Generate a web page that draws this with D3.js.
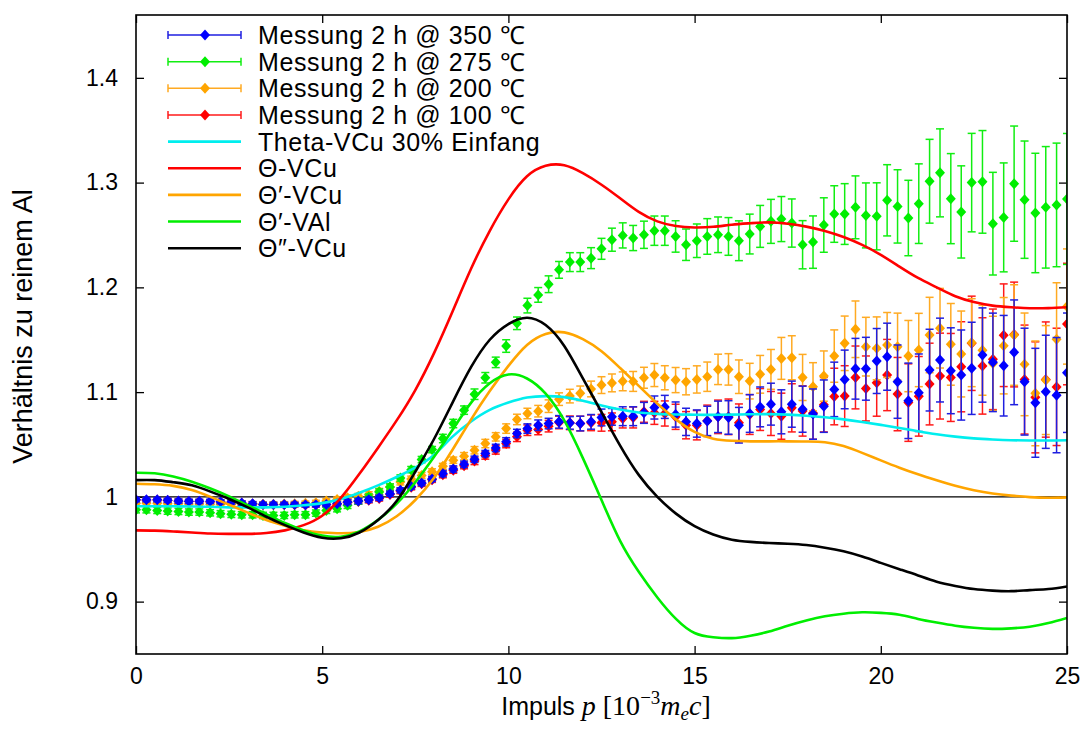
<!DOCTYPE html>
<html>
<head>
<meta charset="utf-8">
<script src="https://cdn.jsdelivr.net/npm/d3@7"></script>
<style>
  body { margin: 0; background: #fff; }
</style>
</head>
<body>
<svg></svg>
<script>
// momentum grid of the measurements [10^-3 m_e c]
const momentum = [
  0.00, 0.28, 0.57, 0.85, 1.14, 1.42, 1.70, 1.99, 2.27, 2.56,
  2.84, 3.13, 3.41, 3.69, 3.98, 4.26, 4.55, 4.83, 5.11, 5.40,
  5.68, 5.97, 6.25, 6.53, 6.82, 7.10, 7.39, 7.67, 7.95, 8.24,
  8.52, 8.81, 9.09, 9.38, 9.66, 9.94, 10.23, 10.51, 10.80, 11.08,
  11.36, 11.65, 11.93, 12.22, 12.50, 12.78, 13.07, 13.35, 13.64, 13.92,
  14.20, 14.49, 14.77, 15.06, 15.34, 15.63, 15.91, 16.19, 16.48, 16.76,
  17.05, 17.33, 17.61, 17.90, 18.18, 18.47, 18.75, 19.03, 19.32, 19.60,
  19.89, 20.17, 20.45, 20.74, 21.02, 21.31, 21.59, 21.88, 22.16, 22.44,
  22.73, 23.01, 23.30, 23.58, 23.86, 24.15, 24.43, 24.72, 25.00
];

const m350 = [
  0.9973, 0.9973, 0.9973, 0.9967, 0.9960, 0.9957, 0.9957, 0.9957, 0.9954, 0.9951,
  0.9941, 0.9935, 0.9928, 0.9928, 0.9928, 0.9928, 0.9925, 0.9925, 0.9928, 0.9935,
  0.9951, 0.9960, 0.9973, 0.9992, 1.0030, 1.0062, 1.0100, 1.0132, 1.0171, 1.0222,
  1.0266, 1.0311, 1.0359, 1.0413, 1.0467, 1.0525, 1.0605, 1.0652, 1.0684, 1.0700,
  1.0716, 1.0706, 1.0700, 1.0716, 1.0758, 1.0764, 1.0770, 1.0770, 1.0802, 1.0853,
  1.0859, 1.0786, 1.0716, 1.0700, 1.0725, 1.0764, 1.0758, 1.0684, 1.0796, 1.0859,
  1.0885, 1.0812, 1.0885, 1.0837, 1.0790, 1.0866, 1.1026, 1.1121, 1.1223, 1.1223,
  1.1297, 1.1338, 1.1100, 1.0917, 1.0994, 1.1210, 1.1306, 1.1204, 1.1163, 1.1227,
  1.1354, 1.1284, 1.1252, 1.1380, 1.1100, 1.0898, 1.1003, 1.0971, 1.1185
];
const e350 = [
  0.002, 0.002, 0.002, 0.002, 0.002, 0.002, 0.002, 0.002, 0.002, 0.002,
  0.002, 0.002, 0.002, 0.002, 0.002, 0.002, 0.002, 0.002, 0.002, 0.002,
  0.0025, 0.0025, 0.0025, 0.0025, 0.0025, 0.0025, 0.0025, 0.0025, 0.0025, 0.003,
  0.003, 0.003, 0.003, 0.003, 0.0035, 0.004, 0.004, 0.0045, 0.005, 0.005,
  0.006, 0.006, 0.007, 0.007, 0.008, 0.008, 0.009, 0.009, 0.010, 0.011,
  0.011, 0.012, 0.013, 0.013, 0.014, 0.015, 0.016, 0.017, 0.018, 0.019,
  0.020, 0.021, 0.022, 0.022, 0.024, 0.025, 0.026, 0.028, 0.029, 0.030,
  0.031, 0.032, 0.035, 0.036, 0.037, 0.039, 0.040, 0.041, 0.043, 0.044,
  0.045, 0.047, 0.048, 0.050, 0.051, 0.052, 0.054, 0.055, 0.057
];

const m275 = [
  0.9877, 0.9877, 0.9871, 0.9864, 0.9861, 0.9855, 0.9855, 0.9848, 0.9839, 0.9833,
  0.9829, 0.9829, 0.9823, 0.9823, 0.9823, 0.9829, 0.9829, 0.9845, 0.9871, 0.9887,
  0.9919, 0.9960, 0.9998, 1.0046, 1.0094, 1.0180, 1.0260, 1.0356, 1.0451, 1.0557,
  1.0700, 1.0828, 1.0980, 1.1137, 1.1284, 1.1440, 1.1657, 1.1826, 1.1928, 1.2030,
  1.2167, 1.2241, 1.2241, 1.2279, 1.2368, 1.2455, 1.2496, 1.2471, 1.2502, 1.2541,
  1.2541, 1.2486, 1.2407, 1.2445, 1.2486, 1.2502, 1.2486, 1.2445, 1.2509, 1.2582,
  1.2630, 1.2652, 1.2614, 1.2407, 1.2432, 1.2595, 1.2700, 1.2700, 1.2764, 1.2687,
  1.2678, 1.2831, 1.2773, 1.2662, 1.2799, 1.3013, 1.3093, 1.2847, 1.2720, 1.3000,
  1.3007, 1.2608, 1.2668, 1.2990, 1.2837, 1.2710, 1.2764, 1.2787, 1.2844
];
const e275 = [
  0.003, 0.003, 0.003, 0.003, 0.003, 0.003, 0.003, 0.003, 0.003, 0.003,
  0.003, 0.003, 0.003, 0.003, 0.003, 0.003, 0.003, 0.003, 0.003, 0.003,
  0.003, 0.003, 0.003, 0.003, 0.003, 0.003, 0.003, 0.003, 0.003, 0.004,
  0.004, 0.004, 0.005, 0.005, 0.005, 0.006, 0.006, 0.007, 0.007, 0.008,
  0.008, 0.009, 0.009, 0.010, 0.010, 0.011, 0.012, 0.012, 0.013, 0.014,
  0.014, 0.015, 0.015, 0.016, 0.017, 0.017, 0.018, 0.019, 0.019, 0.020,
  0.021, 0.0215, 0.023, 0.023, 0.025, 0.026, 0.027, 0.029, 0.030, 0.031,
  0.032, 0.034, 0.035, 0.036, 0.038, 0.040, 0.042, 0.043, 0.044, 0.047,
  0.049, 0.049, 0.052, 0.055, 0.056, 0.057, 0.058, 0.059, 0.0625
];

const m200 = [
  0.9940, 0.9938, 0.9938, 0.9935, 0.9935, 0.9932, 0.9932, 0.9930, 0.9930, 0.9930,
  0.9928, 0.9928, 0.9930, 0.9930, 0.9932, 0.9935, 0.9938, 0.9945, 0.9960, 0.9976,
  0.9992, 1.0005, 1.0021, 1.0053, 1.0094, 1.0142, 1.0170, 1.0205, 1.0240, 1.0292,
  1.0350, 1.0388, 1.0445, 1.0509, 1.0573, 1.0652, 1.0739, 1.0796, 1.0818, 1.0866,
  1.0933, 1.0962, 1.0988, 1.1030, 1.1067, 1.1088, 1.1103, 1.1102, 1.1137, 1.1163,
  1.1137, 1.1115, 1.1099, 1.1121, 1.1147, 1.1217, 1.1217, 1.1147, 1.1105, 1.1170,
  1.1217, 1.1322, 1.1328, 1.1140, 1.1051, 1.1153, 1.1344, 1.1466, 1.1600, 1.1434,
  1.1418, 1.1450, 1.1434, 1.1344, 1.1402, 1.1545, 1.1610, 1.1456, 1.1364, 1.1472,
  1.1400, 1.1274, 1.1443, 1.1545, 1.1265, 1.0988, 1.1115, 1.1504, 1.1817
];
const e200 = [
  0.0022, 0.0022, 0.0022, 0.0022, 0.0022, 0.0022, 0.0022, 0.0022, 0.0022, 0.0022,
  0.0022, 0.0022, 0.0022, 0.0022, 0.0022, 0.0022, 0.0022, 0.0022, 0.0022, 0.0022,
  0.0028, 0.0028, 0.0028, 0.0028, 0.0028, 0.0028, 0.0028, 0.0028, 0.0028, 0.0028,
  0.003, 0.0035, 0.0035, 0.004, 0.004, 0.0045, 0.005, 0.005, 0.0055, 0.006,
  0.006, 0.0065, 0.007, 0.0075, 0.008, 0.0085, 0.009, 0.0095, 0.010, 0.011,
  0.0115, 0.012, 0.0125, 0.013, 0.014, 0.0145, 0.015, 0.016, 0.017, 0.018,
  0.019, 0.020, 0.021, 0.022, 0.023, 0.024, 0.025, 0.026, 0.027, 0.028,
  0.030, 0.031, 0.032, 0.034, 0.035, 0.036, 0.038, 0.039, 0.041, 0.042,
  0.043, 0.045, 0.046, 0.048, 0.049, 0.050, 0.052, 0.054, 0.055
];

const m100 = [
  0.9970, 0.9968, 0.9970, 0.9965, 0.9958, 0.9955, 0.9955, 0.9952, 0.9950, 0.9948,
  0.9940, 0.9933, 0.9926, 0.9925, 0.9926, 0.9924, 0.9922, 0.9923, 0.9926, 0.9933,
  0.9946, 0.9955, 0.9968, 0.9985, 1.0022, 1.0055, 1.0092, 1.0125, 1.0163, 1.0212,
  1.0255, 1.0298, 1.0343, 1.0395, 1.0448, 1.0509, 1.0573, 1.0636, 1.0643, 1.0675,
  1.0710, 1.0707, 1.0700, 1.0707, 1.0707, 1.0716, 1.0748, 1.0758, 1.0812, 1.0802,
  1.0796, 1.0764, 1.0684, 1.0684, 1.0726, 1.0764, 1.0764, 1.0707, 1.0786, 1.0834,
  1.0796, 1.0770, 1.0850, 1.0820, 1.0800, 1.0880, 1.0958, 1.0962, 1.1140, 1.1035,
  1.1090, 1.1163, 1.0981, 1.0900, 1.0960, 1.1077, 1.1153, 1.1140, 1.1242, 1.1466,
  1.1250, 1.1313, 1.1543, 1.1550, 1.1120, 1.0950, 1.1120, 1.1050, 1.1650
];
const e100 = [
  0.002, 0.002, 0.002, 0.002, 0.002, 0.002, 0.002, 0.002, 0.002, 0.002,
  0.002, 0.002, 0.002, 0.002, 0.002, 0.002, 0.002, 0.002, 0.002, 0.002,
  0.0025, 0.0025, 0.0025, 0.0025, 0.0025, 0.0025, 0.0025, 0.0025, 0.0025, 0.003,
  0.003, 0.003, 0.0035, 0.0035, 0.004, 0.004, 0.0045, 0.005, 0.005, 0.0055,
  0.006, 0.0065, 0.007, 0.0075, 0.008, 0.0085, 0.009, 0.010, 0.010, 0.011,
  0.012, 0.012, 0.013, 0.014, 0.015, 0.016, 0.017, 0.018, 0.019, 0.020,
  0.021, 0.022, 0.023, 0.024, 0.025, 0.026, 0.027, 0.029, 0.030, 0.031,
  0.032, 0.034, 0.035, 0.037, 0.038, 0.039, 0.041, 0.042, 0.043, 0.045,
  0.046, 0.048, 0.049, 0.050, 0.052, 0.053, 0.055, 0.056, 0.058
];

// simulated curves, read every 0.5
const curveP = [
  0, 0.5, 1, 1.5, 2, 2.5, 3, 3.5, 4, 4.5,
  5, 5.5, 6, 6.5, 7, 7.5, 8, 8.5, 9, 9.5,
  10, 10.5, 11, 11.5, 12, 12.5, 13, 13.5, 14, 14.5,
  15, 15.5, 16, 16.5, 17, 17.5, 18, 18.5, 19, 19.5,
  20, 20.5, 21, 21.5, 22, 22.5, 23, 23.5, 24, 24.5, 25
];
const thetaVCu30 = [
  0.991, 0.991, 0.991, 0.9908, 0.9905, 0.990, 0.990, 0.990, 0.9905, 0.992,
  0.994, 0.998, 1.004, 1.011, 1.019, 1.028, 1.040, 1.0575, 1.072, 1.083,
  1.090, 1.0948, 1.0962, 1.0952, 1.0918, 1.0873, 1.0834, 1.0805, 1.0792, 1.0787,
  1.0784, 1.0783, 1.0785, 1.0788, 1.079, 1.0785, 1.0775, 1.076, 1.074, 1.0715,
  1.0687, 1.0658, 1.0627, 1.0598, 1.0575, 1.0558, 1.0548, 1.0541, 1.0538, 1.0538, 1.054
];
const thetaVCu = [
  0.968, 0.9678, 0.967, 0.966, 0.965, 0.9647, 0.9647, 0.9655, 0.968, 0.973,
  0.982, 0.999, 1.022, 1.047, 1.073, 1.102, 1.137, 1.177, 1.218, 1.254,
  1.284, 1.306, 1.316, 1.3165, 1.309, 1.298, 1.285, 1.272, 1.263, 1.2585,
  1.2572, 1.2578, 1.2598, 1.2612, 1.262, 1.2607, 1.258, 1.2538, 1.248, 1.2405,
  1.231, 1.2198, 1.209, 1.200, 1.1915, 1.186, 1.1826, 1.181, 1.1801, 1.1802, 1.181
];
const thetaPVCu = [
  1.0125, 1.012, 1.0105, 1.0065, 1.000, 0.9925, 0.985, 0.978, 0.9725, 0.968,
  0.966, 0.9652, 0.9665, 0.9715, 0.9815, 0.997, 1.018, 1.045, 1.074, 1.101,
  1.125, 1.145, 1.1555, 1.157, 1.1505, 1.139, 1.123, 1.106, 1.089, 1.074,
  1.062, 1.0555, 1.0535, 1.053, 1.053, 1.053, 1.0528, 1.0522, 1.0485, 1.042,
  1.0348, 1.0278, 1.0215, 1.0158, 1.0105, 1.0063, 1.0032, 1.0012, 0.9998, 0.9992, 0.9995
];
const thetaPVAl = [
  1.023, 1.0225, 1.0195, 1.0145, 1.008, 1.0005, 0.992, 0.9835, 0.975, 0.968,
  0.963, 0.962, 0.967, 0.978, 0.9935, 1.014, 1.038, 1.064, 1.090, 1.1085,
  1.1168, 1.113, 1.0985, 1.073, 1.037, 0.997, 0.958, 0.9285, 0.904, 0.8835,
  0.870, 0.866, 0.8652, 0.8675, 0.8715, 0.877, 0.882, 0.886, 0.8885, 0.8898,
  0.8893, 0.8875, 0.8835, 0.880, 0.877, 0.875, 0.874, 0.8745, 0.876, 0.8795, 0.8844
];
const thetaPPVCu = [
  1.016, 1.016, 1.014, 1.011, 1.005, 0.998, 0.990, 0.981, 0.973, 0.966,
  0.961, 0.9605, 0.966, 0.978, 0.996, 1.024, 1.055, 1.090, 1.124, 1.150,
  1.165, 1.171, 1.164, 1.144, 1.113, 1.081, 1.049, 1.021, 1.000, 0.984,
  0.972, 0.964, 0.959, 0.957, 0.956, 0.9552, 0.954, 0.9515, 0.948, 0.943,
  0.937, 0.931, 0.925, 0.919, 0.915, 0.912, 0.9105, 0.910, 0.911, 0.912, 0.9145
];

const xTicks = [0, 5, 10, 15, 20, 25];
const yTicks = [0.9, 1, 1.1, 1.2, 1.3, 1.4];

const measurements = [
  {label: "Messung 2 h @ 350 \u2103", color: "#0000ff", bar: "#1f1fe0", values: m350, errors: e350},
  {label: "Messung 2 h @ 275 \u2103", color: "#00ee00", bar: "#11ee11", values: m275, errors: e275},
  {label: "Messung 2 h @ 200 \u2103", color: "#ffa500", bar: "#ffaa22", values: m200, errors: e200},
  {label: "Messung 2 h @ 100 \u2103", color: "#ff0000", bar: "#ff1a1a", values: m100, errors: e100}
];
const curves = [
  {label: "Theta-VCu 30% Einfang", color: "#00eeee", values: thetaVCu30},
  {label: "\u0398-VCu", color: "#ff0000", values: thetaVCu},
  {label: "\u0398\u2032-VCu", color: "#ffa500", values: thetaPVCu},
  {label: "\u0398\u2032-VAl", color: "#00ee00", values: thetaPVAl},
  {label: "\u0398\u2033-VCu", color: "#000000", values: thetaPPVCu}
];

const sans = "'Liberation Sans', Arial, Helvetica, sans-serif";
const serif = "'Liberation Serif', 'DejaVu Serif', serif";

const svg = d3.select('svg')
    .attr('width', 1087)
    .attr('height', 733);

const margins = {top: 15, right: 20, bottom: 79, left: 136};
const width = 1087 - margins.left - margins.right;
const height = 733 - margins.top - margins.bottom;

const x = d3.scaleLinear().domain([0, 25]).range([margins.left, margins.left + width]);
const y = d3.scaleLinear().domain([0.85, 1.46]).range([margins.top + height, margins.top]);

const diamond = {
    draw(context, size) {
        const r = Math.sqrt(size) / 2;
        context.moveTo(0, -r * 1.1);
        context.lineTo(r, 0);
        context.lineTo(0, r * 1.1);
        context.lineTo(-r, 0);
        context.closePath();
    }
};
const marker = d3.symbol().type(diamond).size(100);

// axes, ticks pointing inwards on all four sides
const xAxis = svg.append('g')
    .attr('transform', `translate(0, ${margins.top + height})`)
    .call(d3.axisBottom(x).tickValues(xTicks).tickFormat(d3.format('d'))
        .tickSizeInner(-8).tickSizeOuter(0).tickPadding(14));
const xAxisTop = svg.append('g')
    .attr('transform', `translate(0, ${margins.top})`)
    .call(d3.axisTop(x).tickValues(xTicks).tickFormat('')
        .tickSizeInner(-8).tickSizeOuter(0));
const yAxis = svg.append('g')
    .attr('transform', `translate(${margins.left}, 0)`)
    .call(d3.axisLeft(y).tickValues(yTicks).tickFormat(d => d === 1 ? '1' : d3.format('.1f')(d))
        .tickSizeInner(-8).tickSizeOuter(0).tickPadding(18));
const yAxisRight = svg.append('g')
    .attr('transform', `translate(${margins.left + width}, 0)`)
    .call(d3.axisRight(y).tickValues(yTicks).tickFormat('')
        .tickSizeInner(-8).tickSizeOuter(0));

svg.selectAll('.domain').remove();
svg.selectAll('.tick line').attr('stroke', '#000').attr('stroke-width', 1.3);
svg.selectAll('.tick text')
    .attr('font-family', sans)
    .attr('font-size', 23)
    .attr('fill', '#000');

// reference line at ratio 1
svg.append('line')
    .attr('x1', x(0)).attr('x2', x(25))
    .attr('y1', y(1)).attr('y2', y(1))
    .attr('stroke', '#000')
    .attr('stroke-width', 1.2);

svg.append('clipPath').attr('id', 'plot-clip')
    .append('rect')
    .attr('x', margins.left).attr('y', margins.top)
    .attr('width', width).attr('height', height);

const plot = svg.append('g').attr('clip-path', 'url(#plot-clip)');

// measurement points with error bars (red first, blue on top)
measurements.slice().reverse().forEach(s => {
    const g = plot.append('g');
    const pts = momentum.map((p, i) => ({p: p, v: s.values[i], e: s.errors[i]}));
    const bars = g.selectAll('g.bar').data(pts).enter().append('g').attr('class', 'bar')
        .attr('stroke', s.bar)
        .attr('stroke-width', 1.5);
    bars.append('line')
        .attr('x1', d => x(d.p)).attr('x2', d => x(d.p))
        .attr('y1', d => y(d.v - d.e)).attr('y2', d => y(d.v + d.e));
    bars.append('line')
        .attr('x1', d => x(d.p) - 4).attr('x2', d => x(d.p) + 4)
        .attr('y1', d => y(d.v - d.e)).attr('y2', d => y(d.v - d.e));
    bars.append('line')
        .attr('x1', d => x(d.p) - 4).attr('x2', d => x(d.p) + 4)
        .attr('y1', d => y(d.v + d.e)).attr('y2', d => y(d.v + d.e));
    g.selectAll('path').data(pts).enter().append('path')
        .attr('d', marker)
        .attr('transform', d => `translate(${x(d.p)}, ${y(d.v)})`)
        .attr('fill', s.color);
});

// simulated curves
const line = d3.line()
    .x((d, i) => x(curveP[i]))
    .y(d => y(d))
    .curve(d3.curveNatural);

curves.forEach(c => {
    plot.append('path')
        .attr('d', line(c.values))
        .attr('fill', 'none')
        .attr('stroke', c.color)
        .attr('stroke-width', 2.6);
});

// frame
svg.append('rect')
    .attr('x', margins.left).attr('y', margins.top)
    .attr('width', width).attr('height', height)
    .attr('fill', 'none')
    .attr('stroke', '#000')
    .attr('stroke-width', 1.6);

// legend
const legend = svg.append('g').attr('id', 'legend');
const rowY = i => 35 + i * 26.65;
measurements.forEach((s, i) => {
    const ly = rowY(i);
    const g = legend.append('g').attr('stroke', s.bar).attr('stroke-width', 1.5);
    g.append('line').attr('x1', 168).attr('x2', 241).attr('y1', ly).attr('y2', ly);
    g.append('line').attr('x1', 168).attr('x2', 168).attr('y1', ly - 4).attr('y2', ly + 4);
    g.append('line').attr('x1', 241).attr('x2', 241).attr('y1', ly - 4).attr('y2', ly + 4);
    legend.append('path')
        .attr('d', marker)
        .attr('transform', `translate(205, ${ly})`)
        .attr('fill', s.color);
});
curves.forEach((c, j) => {
    const ly = rowY(j + measurements.length);
    legend.append('line')
        .attr('x1', 168).attr('x2', 241).attr('y1', ly).attr('y2', ly)
        .attr('stroke', c.color)
        .attr('stroke-width', 2.6);
});
legend.selectAll('text')
    .data(measurements.map(d => d.label).concat(curves.map(d => d.label)))
    .enter().append('text')
    .attr('x', 258)
    .attr('y', (d, i) => rowY(i) + 9)
    .attr('font-family', sans)
    .attr('font-size', 25)
    .attr('letter-spacing', 0.6)
    .attr('fill', '#000')
    .text(d => d);

// axis labels
svg.append('text')
    .attr('transform', `translate(32, ${margins.top + height / 2 - 8}) rotate(-90)`)
    .attr('text-anchor', 'middle')
    .attr('font-family', sans)
    .attr('font-size', 27)
    .text('Verh\u00e4ltnis zu reinem Al');

const xl = svg.append('text')
    .attr('x', 606)
    .attr('y', 715)
    .attr('text-anchor', 'middle')
    .attr('font-size', 25)
    .attr('font-family', sans);
xl.append('tspan').text('Impuls ');
xl.append('tspan').attr('font-family', serif).attr('font-size', 28).attr('font-style', 'italic').text('p');
xl.append('tspan').attr('font-family', serif).attr('font-size', 28).text(' [10');
xl.append('tspan').attr('font-family', serif).attr('font-size', 19).attr('dy', -11).text('\u22123');
xl.append('tspan').attr('font-family', serif).attr('font-size', 28).attr('font-style', 'italic').attr('dy', 11).text('m');
xl.append('tspan').attr('font-family', serif).attr('font-size', 19).attr('font-style', 'italic').attr('dy', 5).text('e');
xl.append('tspan').attr('font-family', serif).attr('font-size', 28).attr('font-style', 'italic').attr('dy', -5).text('c');
xl.append('tspan').attr('font-family', serif).attr('font-size', 28).text(']');
</script>
</body>
</html>
